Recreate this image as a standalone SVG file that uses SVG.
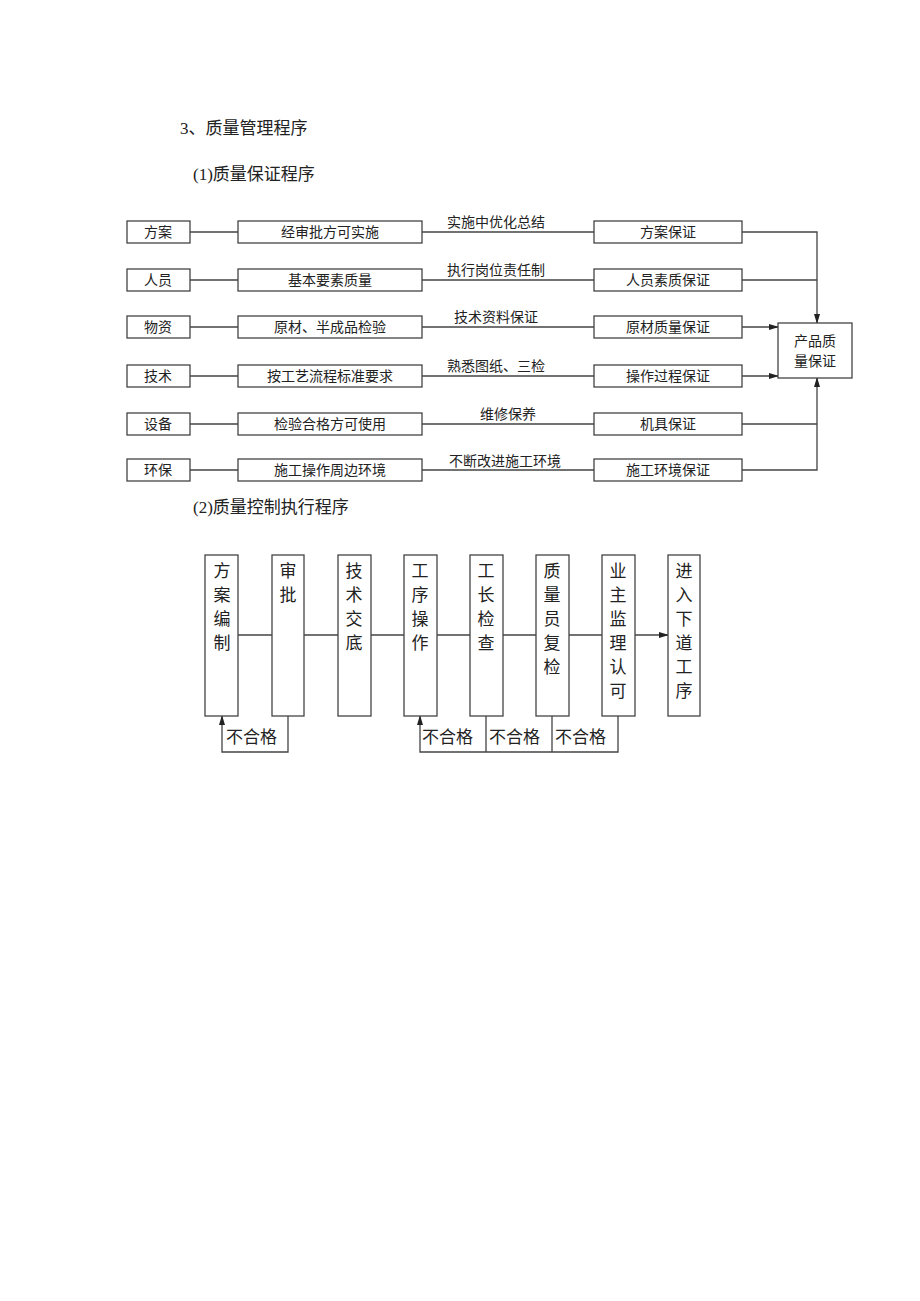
<svg xmlns="http://www.w3.org/2000/svg" width="920" height="1301" viewBox="0 0 920 1301">
<style>
text{font-family:"Liberation Serif","Noto Sans CJK SC",serif;fill:#222}
.b{fill:#fff;stroke:#444;stroke-width:1.3}
.l{fill:none;stroke:#444;stroke-width:1.3}
.t{font-size:14px;text-anchor:middle}
.v{font-size:17px;text-anchor:middle;font-family:"Noto Sans CJK SC",sans-serif}
.h{font-size:17px}
</style>
<defs><marker id="a" markerWidth="10" markerHeight="8" refX="9" refY="4" orient="auto" markerUnits="userSpaceOnUse"><path d="M0,1 L10,4 L0,7z" fill="#222"/></marker></defs>
<rect width="920" height="1301" fill="#fff"/>
<text class="h" x="180" y="134">3、质量管理程序</text>
<text class="h" x="193" y="180">(1)质量保证程序</text>
<text class="h" x="193" y="513">(2)质量控制执行程序</text>
<g id="connectors">
<path class="l" d="M190,232H238M422,232H594M190,280H238M422,280H594M190,327H238M422,327H594M190,376H238M422,376H594M190,424H238M422,424H594M190,470H238M422,470H594"/>
<path class="l" d="M742,232H817V323" marker-end="url(#a)"/>
<path class="l" d="M742,280H817"/>
<path class="l" d="M742,327H778" marker-end="url(#a)"/>
<path class="l" d="M742,376H778" marker-end="url(#a)"/>
<path class="l" d="M742,424H817M742,470H817V378" marker-end="url(#a)"/>
<path class="l" d="M238,635H272M304,635H338M371,635H404M437,635H470M503,635H536M569,635H602M635,635H668" marker-end="url(#a)"/>
<path class="l" d="M288,716V752H222V716" marker-end="url(#a)"/>
<path class="l" d="M618,716V752H420V716" marker-end="url(#a)"/>
<path class="l" d="M486,716V752M552,716V752"/>
</g>
<text class="t" x="496" y="227">实施中优化总结</text>
<text class="t" x="496" y="275">执行岗位责任制</text>
<text class="t" x="496" y="322">技术资料保证</text>
<text class="t" x="496" y="371">熟悉图纸、三检</text>
<text class="t" x="508" y="419">维修保养</text>
<text class="t" x="505" y="466">不断改进施工环境</text>
<g id="r1"><rect class="b" x="127" y="221" width="63" height="22"/><text class="t" x="158" y="237">方案</text><rect class="b" x="238" y="221" width="184" height="22"/><text class="t" x="330" y="237">经审批方可实施</text><rect class="b" x="594" y="221" width="148" height="22"/><text class="t" x="668" y="237">方案保证</text></g>
<g id="r2"><rect class="b" x="127" y="269" width="63" height="22"/><text class="t" x="158" y="285">人员</text><rect class="b" x="238" y="269" width="184" height="22"/><text class="t" x="330" y="285">基本要素质量</text><rect class="b" x="594" y="269" width="148" height="22"/><text class="t" x="668" y="285">人员素质保证</text></g>
<g id="r3"><rect class="b" x="127" y="316" width="63" height="22"/><text class="t" x="158" y="332">物资</text><rect class="b" x="238" y="316" width="184" height="22"/><text class="t" x="330" y="332">原材、半成品检验</text><rect class="b" x="594" y="316" width="148" height="22"/><text class="t" x="668" y="332">原材质量保证</text></g>
<g id="r4"><rect class="b" x="127" y="365" width="63" height="22"/><text class="t" x="158" y="381">技术</text><rect class="b" x="238" y="365" width="184" height="22"/><text class="t" x="330" y="381">按工艺流程标准要求</text><rect class="b" x="594" y="365" width="148" height="22"/><text class="t" x="668" y="381">操作过程保证</text></g>
<g id="r5"><rect class="b" x="127" y="413" width="63" height="22"/><text class="t" x="158" y="429">设备</text><rect class="b" x="238" y="413" width="184" height="22"/><text class="t" x="330" y="429">检验合格方可使用</text><rect class="b" x="594" y="413" width="148" height="22"/><text class="t" x="668" y="429">机具保证</text></g>
<g id="r6"><rect class="b" x="127" y="459" width="63" height="22"/><text class="t" x="158" y="475">环保</text><rect class="b" x="238" y="459" width="184" height="22"/><text class="t" x="330" y="475">施工操作周边环境</text><rect class="b" x="594" y="459" width="148" height="22"/><text class="t" x="668" y="475">施工环境保证</text></g>
<g id="out"><rect class="b" x="778" y="323" width="74" height="55"/><text class="t" x="815" y="346">产品质</text><text class="t" x="815" y="366">量保证</text></g>
<g id="s1"><rect class="b" x="205" y="555" width="33" height="161"/><text class="v"><tspan x="222" y="577">方</tspan><tspan x="222" y="601">案</tspan><tspan x="222" y="625">编</tspan><tspan x="222" y="649">制</tspan></text></g>
<g id="s2"><rect class="b" x="272" y="555" width="32" height="161"/><text class="v"><tspan x="288" y="577">审</tspan><tspan x="288" y="601">批</tspan></text></g>
<g id="s3"><rect class="b" x="338" y="555" width="33" height="161"/><text class="v"><tspan x="354" y="577">技</tspan><tspan x="354" y="601">术</tspan><tspan x="354" y="625">交</tspan><tspan x="354" y="649">底</tspan></text></g>
<g id="s4"><rect class="b" x="404" y="555" width="33" height="161"/><text class="v"><tspan x="420" y="577">工</tspan><tspan x="420" y="601">序</tspan><tspan x="420" y="625">操</tspan><tspan x="420" y="649">作</tspan></text></g>
<g id="s5"><rect class="b" x="470" y="555" width="33" height="161"/><text class="v"><tspan x="486" y="577">工</tspan><tspan x="486" y="601">长</tspan><tspan x="486" y="625">检</tspan><tspan x="486" y="649">查</tspan></text></g>
<g id="s6"><rect class="b" x="536" y="555" width="33" height="161"/><text class="v"><tspan x="552" y="577">质</tspan><tspan x="552" y="601">量</tspan><tspan x="552" y="625">员</tspan><tspan x="552" y="649">复</tspan><tspan x="552" y="673">检</tspan></text></g>
<g id="s7"><rect class="b" x="602" y="555" width="33" height="161"/><text class="v"><tspan x="618" y="577">业</tspan><tspan x="618" y="601">主</tspan><tspan x="618" y="625">监</tspan><tspan x="618" y="649">理</tspan><tspan x="618" y="673">认</tspan><tspan x="618" y="697">可</tspan></text></g>
<g id="s8"><rect class="b" x="668" y="555" width="32" height="161"/><text class="v"><tspan x="684" y="577">进</tspan><tspan x="684" y="601">入</tspan><tspan x="684" y="625">下</tspan><tspan x="684" y="649">道</tspan><tspan x="684" y="673">工</tspan><tspan x="684" y="697">序</tspan></text></g>
<g font-size="17" font-family="Noto Sans CJK SC,sans-serif">
<text x="226" y="743" style="font-size:17px;font-family:'Noto Sans CJK SC',sans-serif">不合格</text>
<text x="422" y="743" style="font-size:17px;font-family:'Noto Sans CJK SC',sans-serif">不合格</text>
<text x="489" y="743" style="font-size:17px;font-family:'Noto Sans CJK SC',sans-serif">不合格</text>
<text x="555" y="743" style="font-size:17px;font-family:'Noto Sans CJK SC',sans-serif">不合格</text>
</g>
</svg>
